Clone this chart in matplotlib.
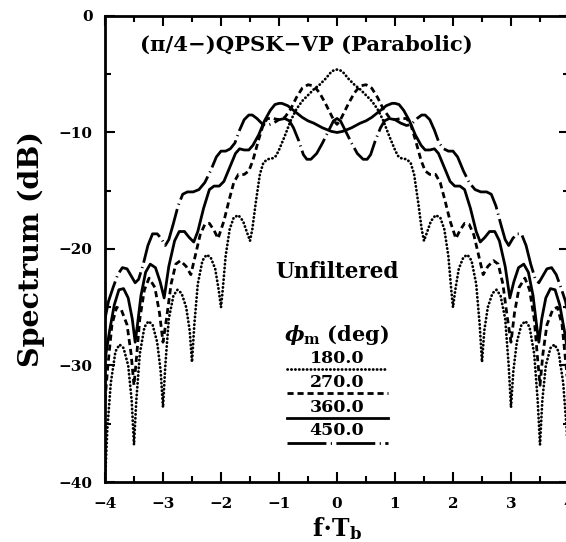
import numpy as np
import matplotlib.pyplot as plt

plt.rcParams['font.family'] = ['DejaVu Serif']
plt.rcParams['font.weight'] = 'bold'
plt.rcParams['axes.labelweight'] = 'bold'
plt.rcParams['mathtext.fontset'] = 'custom'
plt.rcParams['mathtext.rm'] = 'DejaVu Serif:bold'
plt.rcParams['mathtext.it'] = 'DejaVu Serif:italic:bold'

# right half (f*Tb >= 0) of each spectrum in dB, the curves are symmetric
x180 = [0, 0.05, 0.1, 0.15, 0.2, 0.3, 0.4, 0.5, 0.6, 0.7, 0.8, 0.9, 1.0, 1.05, 1.1, 1.2,
        1.27, 1.33, 1.4, 1.46, 1.5, 1.55, 1.62, 1.7, 1.78, 1.85, 1.92, 1.97, 2.0, 2.04,
        2.1, 2.18, 2.25, 2.32, 2.4, 2.46, 2.5, 2.54, 2.6, 2.68, 2.75, 2.82, 2.9, 2.96,
        3.0, 3.04, 3.1, 3.18, 3.25, 3.32, 3.4, 3.46, 3.5, 3.54, 3.6, 3.68, 3.75, 3.82,
        3.9, 3.96, 4.0]
s180 = [-4.6, -4.65, -4.8, -5.1, -5.4, -5.9, -6.3, -6.8, -7.3, -8.0, -9.0, -10.3, -11.5,
        -12.0, -12.2, -12.3, -12.6, -13.6, -16.0, -18.3, -19.3, -18.6, -17.6, -17.1, -17.3,
        -18.3, -20.6, -23.5, -25.0, -23.5, -21.7, -20.7, -20.5, -21.0, -23.0, -26.5, -29.7,
        -27.0, -25.0, -23.8, -23.5, -24.0, -26.0, -30.0, -33.6, -30.5, -28.0, -26.5, -26.2,
        -26.7, -29.0, -33.0, -36.8, -33.0, -30.0, -28.5, -28.2, -28.8, -31.5, -35.5, -40.0]

x270 = [0, 0.05, 0.1, 0.2, 0.3, 0.4, 0.5, 0.6, 0.7, 0.8, 0.9, 1.0, 1.1, 1.2, 1.27, 1.35,
        1.45, 1.52, 1.6, 1.7, 1.78, 1.86, 1.95, 2.05, 2.12, 2.2, 2.28, 2.36, 2.44, 2.52,
        2.6, 2.7, 2.78, 2.86, 2.94, 3.0, 3.06, 3.14, 3.24, 3.32, 3.4, 3.46, 3.5, 3.55,
        3.62, 3.72, 3.8, 3.88, 3.95, 4.0]
s270 = [-9.3, -9.0, -8.5, -7.5, -6.6, -6.0, -5.9, -6.2, -7.0, -8.0, -8.7, -8.9, -8.8,
        -8.8, -9.3, -10.6, -12.4, -13.3, -13.6, -13.6, -14.3, -15.8, -17.6, -19.1, -18.4,
        -17.8, -17.9, -18.8, -20.5, -22.2, -21.5, -21.0, -21.3, -23.0, -26.0, -28.0, -25.5,
        -23.3, -22.5, -23.5, -26.0, -29.5, -31.7, -29.0, -26.5, -25.2, -25.0, -26.5, -30.0,
        -33.0]

x360 = [0, 0.1, 0.25, 0.4, 0.5, 0.6, 0.75, 0.85, 0.95, 1.0, 1.07, 1.15, 1.25, 1.35, 1.45,
        1.52, 1.6, 1.68, 1.75, 1.85, 1.95, 2.03, 2.12, 2.2, 2.3, 2.4, 2.47, 2.55, 2.63,
        2.72, 2.8, 2.9, 2.98, 3.05, 3.13, 3.22, 3.3, 3.38, 3.44, 3.48, 3.53, 3.6, 3.68,
        3.76, 3.84, 3.92, 4.0]
s360 = [-10.0, -9.9, -9.6, -9.2, -9.0, -8.7, -8.1, -7.7, -7.5, -7.5, -7.6, -8.1, -9.0,
        -10.2, -11.1, -11.5, -11.5, -11.4, -11.8, -13.0, -14.2, -14.6, -14.6, -14.9, -16.5,
        -18.5, -19.4, -19.0, -18.5, -18.5, -19.3, -21.5, -24.2, -22.8, -21.6, -21.3, -22.0,
        -24.0, -26.5, -28.0, -26.0, -24.2, -23.4, -23.5, -24.8, -27.0, -29.5]

x450 = [0, 0.06, 0.15, 0.25, 0.35, 0.45, 0.52, 0.58, 0.66, 0.75, 0.82, 0.9, 1.0, 1.1, 1.2,
        1.28, 1.38, 1.46, 1.52, 1.6, 1.68, 1.76, 1.84, 1.92, 2.0, 2.08, 2.18, 2.28, 2.38,
        2.48, 2.58, 2.66, 2.74, 2.82, 2.9, 2.96, 3.03, 3.1, 3.18, 3.26, 3.34, 3.42, 3.48,
        3.55, 3.62, 3.7, 3.78, 3.86, 3.94, 4.0]
s450 = [-8.8, -9.0, -9.9, -10.9, -11.8, -12.3, -12.3, -11.9, -10.7, -9.6, -9.0, -8.8, -8.9,
        -9.2, -9.4, -9.3, -8.8, -8.5, -8.5, -8.9, -9.8, -10.9, -11.4, -11.6, -11.6, -12.1,
        -13.3, -14.3, -14.9, -15.1, -15.1, -15.3, -16.3, -17.8, -19.2, -19.7, -19.1, -18.7,
        -18.7, -19.7, -21.3, -22.6, -22.9, -22.3, -21.7, -21.6, -22.2, -23.3, -24.5, -26.0]

labels = ['180.0', '270.0', '360.0', '450.0']
styles = [dict(linestyle=(0, (0.1, 1.3)), linewidth=2.0, dash_capstyle='round'),
          dict(linestyle=(0, (2.2, 1.4)), linewidth=2.0),
          dict(linestyle='-', linewidth=2.0),
          dict(linestyle=(0, (14, 1.6, 0.4, 1.6)), linewidth=2.0)]


def mirror(xh, yh):
    xh = np.array(xh)
    yh = np.array(yh)
    return np.concatenate([-xh[::-1], xh[1:]]), np.concatenate([yh[::-1], yh[1:]])


fig = plt.figure(figsize=(5.66, 5.42), dpi=100)
ax = fig.add_axes([0.1855, 0.1107, 0.8198, 0.8598])

for (xh, yh), st in zip([(x180, s180), (x270, s270), (x360, s360), (x450, s450)], styles):
    xx, yy = mirror(xh, yh)
    ax.plot(xx, yy, color='black', **st)

ax.set_xlim(-4, 4)
ax.set_ylim(-40, 0)
ax.set_xticks(np.arange(-4, 5, 1))
ax.set_xticks(np.arange(-4, 4.5, 0.5), minor=True)
ax.set_yticks([-40, -30, -20, -10, 0])
ax.set_yticks(np.arange(-40, 1, 5), minor=True)
ax.set_xticklabels(['\u22124', '\u22123', '\u22122', '\u22121', '0', '1', '2', '3', '4'])
ax.set_yticklabels(['\u221240', '\u221230', '\u221220', '\u221210', '0'])
ax.tick_params(which='both', direction='in', top=True, right=True, width=1.5)
ax.tick_params(which='major', length=7, labelsize=11, pad=9)
ax.tick_params(axis='x', which='major', pad=11)
ax.tick_params(which='minor', length=4)
for sp in ax.spines.values():
    sp.set_linewidth(2.0)

ax.set_xlabel(r'f$\cdot$T$_{\mathrm{b}}$', fontsize=17, fontweight='bold', labelpad=3)
ax.set_ylabel('Spectrum (dB)', fontsize=20.5, fontweight='bold', labelpad=10)

ax.text(-3.4, -2.5, '(\u03c0/4\u2212)QPSK\u2212VP (Parabolic)', fontsize=15.2, ha='left', va='center')
ax.text(0, -22, 'Unfiltered', fontsize=15.5, ha='center', va='center')
ax.text(0, -27.4, r'$\phi_{\mathrm{m}}$ (deg)', fontsize=15, ha='center', va='center')

ty = [-29.4, -31.5, -33.6, -35.6]
ly = [-30.3, -32.4, -34.5, -36.65]
for lab, st, t, l in zip(labels, styles, ty, ly):
    ax.text(0, t, lab, fontsize=12.5, ha='center', va='center')
    ax.plot([-0.86, 0.88], [l, l], color='black', **st)

fig.savefig('out.png', dpi=100)
